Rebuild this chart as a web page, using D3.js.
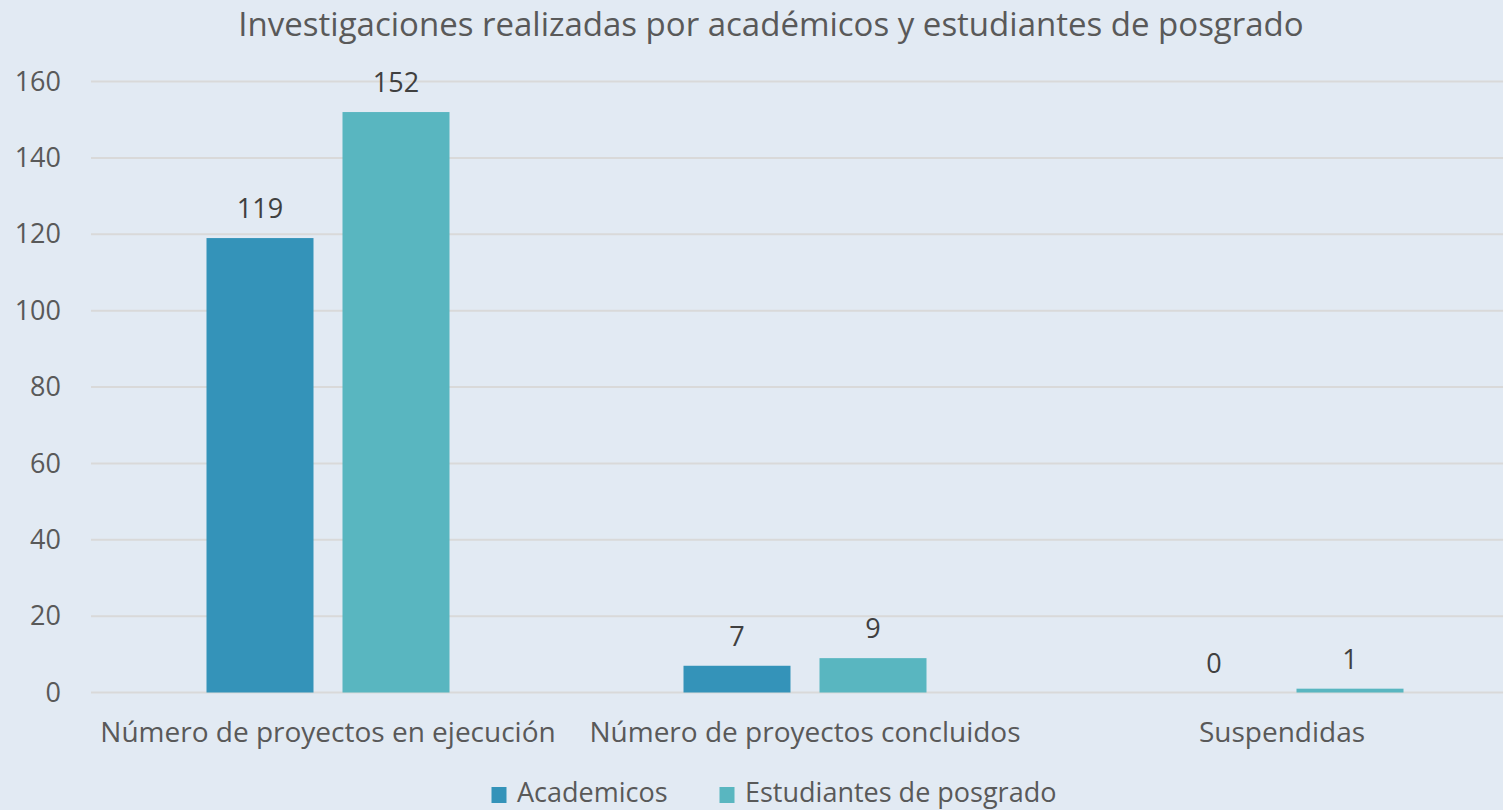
<!DOCTYPE html>
<html>
<head>
<meta charset="utf-8">
<title>Investigaciones</title>
<script src="https://cdn.jsdelivr.net/npm/d3@7"></script>
<style>
  body { margin: 0; background: #E2EAF3; }
  text { font-family: "Open Sans", sans-serif; }
</style>
</head>
<body>
<script>
var categories = ["Número de proyectos en ejecución", "Número de proyectos concluidos", "Suspendidas"];
var seriesNames = ["Academicos", "Estudiantes de posgrado"];
var academicos = [119, 7, 0];
var estudiantes = [152, 9, 1];
var yTicks = [0, 20, 40, 60, 80, 100, 120, 140, 160];
var colors = ["#3493B9", "#59B6C0"];

var w = 1503, h = 810;

var svg = d3.select("body").append("svg")
  .attr("width", w)
  .attr("height", h);

svg.append("rect").attr("width", w).attr("height", h).attr("fill", "#E2EAF3");

var x = d3.scaleBand()
  .domain(categories)
  .range([89.5, 1520.5])
  .paddingInner(0)
  .paddingOuter(0);

var xInner = d3.scaleBand()
  .domain(seriesNames)
  .range([117, 477 - 117])
  .paddingInner(29 / 243 * 2 / (1 + 29 / 243))
  .paddingOuter(0);

var y = d3.scaleLinear()
  .domain([0, 160])
  .range([692.5, 81.5]);

// grid
svg.append("g")
  .selectAll("line")
  .data(yTicks)
  .enter()
  .append("line")
  .attr("x1", 91)
  .attr("x2", w)
  .attr("y1", function(d) { return y(d); })
  .attr("y2", function(d) { return y(d); })
  .attr("stroke", "#D9D9D9")
  .attr("stroke-width", 2);

// y labels
var yAxis = d3.axisLeft(y).tickValues(yTicks).tickSize(0).tickPadding(0);
var yg = svg.append("g")
  .attr("transform", "translate(61,0)")
  .call(yAxis);
yg.select(".domain").remove();
yg.selectAll("text")
  .attr("font-size", 27)
  .attr("font-family", "Open Sans, sans-serif")
  .attr("fill", "#595959");

// x labels
var xAxis = d3.axisBottom(x).tickSize(0).tickPadding(0);
var xg = svg.append("g")
  .attr("transform", "translate(0,722)")
  .call(xAxis);
xg.select(".domain").remove();
xg.selectAll("text")
  .attr("font-size", 28)
  .attr("font-family", "Open Sans, sans-serif")
  .attr("fill", "#595959");

var rows = categories.map(function(c, i) {
  return { cat: c, values: [academicos[i], estudiantes[i]] };
});

var groups = svg.selectAll(".grp")
  .data(rows)
  .enter()
  .append("g")
  .attr("class", "grp")
  .attr("transform", function(d) { return "translate(" + x(d.cat) + ",0)"; });

var bars = groups.selectAll("g")
  .data(function(d) { return d.values.map(function(v, j) { return { name: seriesNames[j], v: v, j: j }; }); })
  .enter()
  .append("g");

bars.append("rect")
  .attr("x", function(d) { return xInner(d.name); })
  .attr("width", xInner.bandwidth())
  .attr("y", function(d) { return y(d.v); })
  .attr("height", function(d) { return y(0) - y(d.v); })
  .attr("fill", function(d) { return colors[d.j]; });

bars.append("text")
  .attr("x", function(d) { return xInner(d.name) + xInner.bandwidth() / 2; })
  .attr("y", function(d) { return y(d.v) - 20; })
  .attr("text-anchor", "middle")
  .attr("font-size", 27)
  .attr("fill", "#404040")
  .text(function(d) { return d.v; });

// title
svg.append("text")
  .attr("x", 771)
  .attr("y", 36)
  .attr("text-anchor", "middle")
  .attr("font-size", 33)
  .attr("fill", "#595959")
  .text("Investigaciones realizadas por académicos y estudiantes de posgrado");

// legend
var legX = [499, 727];
var leg = svg.selectAll(".leg")
  .data(seriesNames)
  .enter()
  .append("g")
  .attr("class", "leg")
  .attr("transform", function(d, i) { return "translate(" + legX[i] + ",794)"; });
leg.append("rect")
  .attr("x", -7.5).attr("y", -7)
  .attr("width", 15).attr("height", 16)
  .attr("fill", function(d, i) { return colors[i]; });
leg.append("text")
  .attr("x", 18)
  .attr("y", 8)
  .attr("font-size", 27)
  .attr("fill", "#595959")
  .text(function(d) { return d; });
</script>
</body>
</html>
